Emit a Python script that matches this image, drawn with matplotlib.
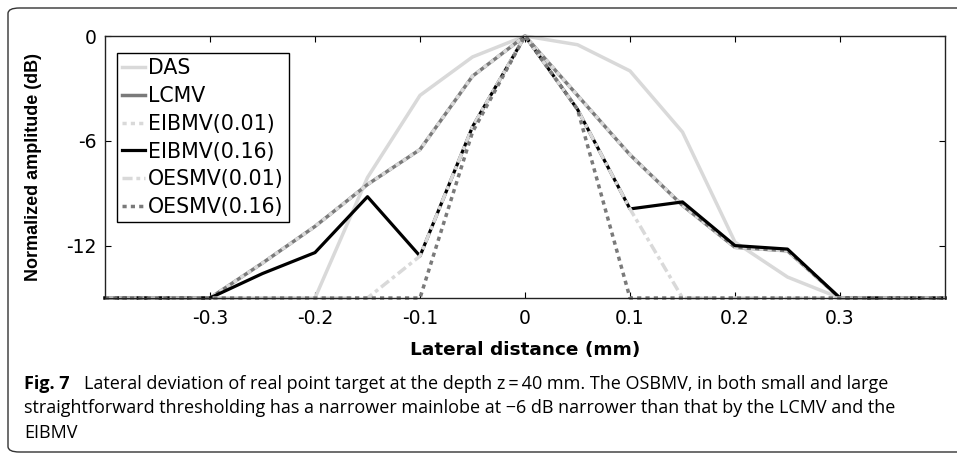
import matplotlib
matplotlib.use("Agg")
import matplotlib.pyplot as plt
from matplotlib.patches import FancyBboxPatch

# ── Data ──────────────────────────────────────────────────────────────────
lateral = [-0.4, -0.35, -0.3, -0.25, -0.2, -0.15, -0.1, -0.05, 0.0,
           0.05, 0.1, 0.15, 0.2, 0.25, 0.3, 0.35, 0.4]

das      = [-15, -15, -15, -15, -15, -8.1, -3.4, -1.2, 0,
            -0.5, -2.0, -5.5, -11.8, -13.8, -15, -15, -15]
lcmv     = [-15, -15, -15, -13.0, -10.9, -8.5, -6.5, -2.3, 0,
            -3.4, -6.8, -9.7, -12.1, -12.3, -15, -15, -15]
eibmv_01 = [-15, -15, -15, -13.0, -10.9, -8.5, -6.5, -2.3, 0,
            -3.4, -6.8, -9.7, -12.1, -12.3, -15, -15, -15]
eibmv_16 = [-15, -15, -15, -13.6, -12.4, -9.2, -12.6, -5.2, 0,
            -4.2, -9.9, -9.5, -12.0, -12.2, -15, -15, -15]
oesmv_01 = [-15, -15, -15, -15, -15, -15, -12.6, -5.2, 0,
            -4.2, -9.9, -15, -15, -15, -15, -15, -15]
oesmv_16 = [-15, -15, -15, -15, -15, -15, -15, -5.5, 0,
            -4.2, -15, -15, -15, -15, -15, -15, -15]

labels = ["DAS", "LCMV", "EIBMV(0.01)", "EIBMV(0.16)", "OESMV(0.01)", "OESMV(0.16)"]
x_ticks = [-0.3, -0.2, -0.1, 0, 0.1, 0.2, 0.3]
x_tick_labels = ["-0.3", "-0.2", "-0.1", "0", "0.1", "0.2", "0.3"]
y_ticks = [-12, -6, 0]
y_tick_labels = ["-12", "-6", "0"]

caption_bold = "Fig. 7"
caption_lines = [
    "Lateral deviation of real point target at the depth z\u2009=\u200940 mm. The OSBMV, in both small and large",
    "straightforward thresholding has a narrower mainlobe at \u22126 dB narrower than that by the LCMV and the",
    "EIBMV",
]

# ── Styles ────────────────────────────────────────────────────────────────
LIGHT = "#d9d9d9"
GREY  = "#7a7a7a"
BLACK = "#000000"

# wide sans for the horizontally stretched chart text
plt.rcParams["font.family"] = ["DejaVu Sans"]

fig = plt.figure(figsize=(9.57, 4.55), dpi=100, facecolor="white")

# rounded outer frame (runs off the right edge like the page crop)
frame = FancyBboxPatch((8 / 957, 3 / 455), 1.2, (447 - 3) / 455,
                       boxstyle="round,pad=0,rounding_size=0.012",
                       transform=fig.transFigure, facecolor="none",
                       edgecolor="#333333", lw=1.0, clip_on=False)
fig.patches.append(frame)

ax = fig.add_axes([105 / 957, 157 / 455, 840 / 957, 262 / 455])

series = [
    (das,      dict(color=LIGHT, lw=2.5, ls="-")),
    (lcmv,     dict(color=GREY,  lw=2.5, ls="-")),
    (eibmv_01, dict(color=LIGHT, lw=2.5, ls=(0, (1.2, 1.2)))),
    (eibmv_16, dict(color=BLACK, lw=2.3, ls="-")),
    (oesmv_01, dict(color=LIGHT, lw=2.5, ls=(0, (2.9, 1.1, 1.1, 1.1)))),
    (oesmv_16, dict(color=GREY,  lw=2.5, ls=(0, (1.2, 1.2)))),
]
for (vals, style), lab in zip(series, labels):
    ax.plot(lateral, vals, label=lab, clip_on=False, **style)

ax.set_xlim(-0.4, 0.4)
ax.set_ylim(-15, 0)
ax.set_xticks(x_ticks)
ax.set_xticklabels(x_tick_labels)
ax.set_yticks(y_ticks)
ax.set_yticklabels(y_tick_labels)
ax.tick_params(direction="in", length=4, width=0.8, top=True, right=True,
               labelsize=13.5, colors="black")
ax.tick_params(axis="x", pad=8)
ax.tick_params(axis="y", pad=6)
for sp in ax.spines.values():
    sp.set_linewidth(1.0)
    sp.set_color("#222222")

ax.set_xlabel("Lateral distance (mm)", fontsize=13.3, fontweight="bold")
ax.xaxis.set_label_coords(0.5, -0.165)
ax.set_ylabel("Normalized amplitude (dB)", fontsize=13, fontweight="bold",
              family=["Liberation Sans", "DejaVu Sans"])
ax.yaxis.set_label_coords(-0.075, 0.5)

leg = ax.legend(loc="upper left", bbox_to_anchor=(0.0143, 0.935),
                borderaxespad=0, fontsize=14.8, handlelength=1.1,
                handletextpad=0.15, labelspacing=0.38, borderpad=0.25,
                fancybox=False, framealpha=1, edgecolor="black")
leg.get_frame().set_linewidth(1.0)

# ── Caption ───────────────────────────────────────────────────────────────
cap_font = ["Open Sans", "DejaVu Sans"]
cap_size = 13.0
baselines = [389, 413, 438]
renderer = fig.canvas.get_renderer()
t = fig.text(24 / 957, 1 - baselines[0] / 455, caption_bold, family=cap_font,
             fontsize=cap_size, fontweight="bold", va="baseline")
bb = t.get_window_extent(renderer)
fig.text(bb.x1 / 957 + 14 / 957, 1 - baselines[0] / 455, caption_lines[0],
         family=cap_font, fontsize=cap_size, va="baseline")
for line, y in zip(caption_lines[1:], baselines[1:]):
    fig.text(24 / 957, 1 - y / 455, line, family=cap_font, fontsize=cap_size,
             va="baseline")

fig.savefig("out.png", dpi=100, facecolor="white")
